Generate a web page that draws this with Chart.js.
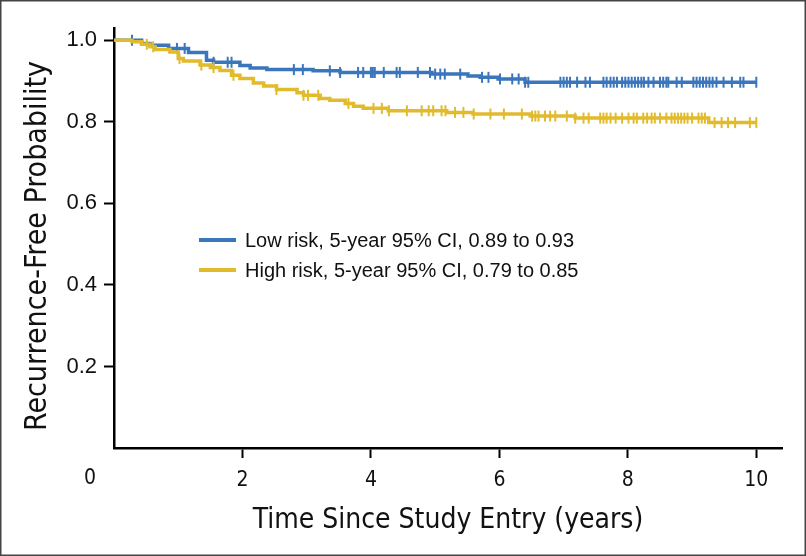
<!DOCTYPE html>
<html><head><meta charset="utf-8">
<script src="https://cdn.jsdelivr.net/npm/chart.js@4"></script>
<style>html,body{margin:0;padding:0;background:#fff}#wrap{width:806px;height:556px;position:relative}</style>
</head><body><div id="wrap"><canvas id="c" width="806" height="556"></canvas></div>
<script>
// ---- data ----
const seriesLabels = ['Low risk, 5-year 95% CI, 0.89 to 0.93', 'High risk, 5-year 95% CI, 0.79 to 0.85'];
const lowTimes = [0, 0.43, 0.56, 0.85, 1.16, 1.44, 1.55, 1.96, 2.12, 2.38, 3.10, 3.52, 4.95, 5.51, 5.70, 5.98, 6.40];
const lowSurv  = [1.0, 0.992, 0.988, 0.980, 0.970, 0.951, 0.946, 0.938, 0.932, 0.928, 0.925, 0.921, 0.917, 0.912, 0.909, 0.905, 0.897];
const lowEnd = 10.0;
const lowCensor = [0.28, 0.98, 1.1, 1.55, 1.77, 1.83, 2.8, 2.94, 3.36, 3.52, 3.8, 3.88, 4.0, 4.03, 4.06, 4.2, 4.4, 4.45, 4.73, 4.92, 5.0, 5.08, 5.15, 5.39, 5.73, 5.83, 6.01, 6.2, 6.3, 6.4, 6.45, 6.95, 7.0, 7.05, 7.1, 7.21, 7.34, 7.41, 7.62, 7.67, 7.73, 7.78, 7.83, 7.91, 7.96, 8.01, 8.06, 8.11, 8.16, 8.21, 8.25, 8.32, 8.4, 8.5, 8.55, 8.6, 8.63, 8.76, 8.84, 9.02, 9.07, 9.12, 9.17, 9.22, 9.27, 9.32, 9.38, 9.49, 9.62, 9.75, 9.8, 10.0];
const highTimes = [0, 0.28, 0.43, 0.56, 0.64, 0.87, 1.0, 1.08, 1.34, 1.5, 1.65, 1.83, 1.96, 2.17, 2.33, 2.53, 2.85, 2.95, 3.21, 3.36, 3.60, 3.73, 3.88, 4.27, 5.18, 5.59, 6.48, 7.18, 9.26];
const highSurv  = [1.0, 0.996, 0.990, 0.984, 0.977, 0.971, 0.955, 0.949, 0.939, 0.933, 0.926, 0.914, 0.906, 0.895, 0.888, 0.879, 0.871, 0.865, 0.857, 0.853, 0.845, 0.838, 0.833, 0.827, 0.823, 0.819, 0.814, 0.809, 0.798];
const highEnd = 10.0;
const highCensor = [0.51, 0.61, 1.02, 1.36, 1.55, 1.86, 2.53, 2.95, 3.02, 3.18, 3.65, 4.04, 4.17, 4.28, 4.56, 4.79, 4.9, 4.97, 5.1, 5.16, 5.31, 5.44, 5.6, 5.86, 6.07, 6.35, 6.51, 6.56, 6.61, 6.71, 6.79, 6.87, 7.05, 7.18, 7.31, 7.39, 7.57, 7.62, 7.67, 7.73, 7.81, 7.91, 8.01, 8.09, 8.14, 8.24, 8.3, 8.37, 8.42, 8.5, 8.6, 8.68, 8.73, 8.78, 8.83, 8.88, 8.93, 9.0, 9.1, 9.15, 9.2, 9.35, 9.46, 9.56, 9.67, 9.9, 10.0];
const xTicks = [2, 4, 6, 8, 10];
const yTicks = [0.2, 0.4, 0.6, 0.8, 1.0];
const xTitle = 'Time Since Study Entry (years)';
const yTitle = 'Recurrence-Free Probability';
const zeroLabel = '0';

const BLUE = '#3a76bb';
const YELLOW = '#e2bb2c';

function stepPoints(times, surv, end) {
  const pts = times.map((t, i) => ({x: t, y: surv[i]}));
  pts.push({x: end, y: surv[surv.length - 1]});
  return pts;
}
function survAt(times, surv, t) {
  let s = surv[0];
  for (let i = 0; i < times.length; i++) if (times[i] <= t) s = surv[i];
  return s;
}
function censorPoints(times, surv, cens) {
  return cens.map(t => ({x: t, y: survAt(times, surv, t)}));
}

const condensed = "'Liberation Sans Narrow', 'DejaVu Sans Condensed', 'Liberation Sans', sans-serif";
const regular = "'Liberation Sans', Arial, sans-serif";

const extras = {
  id: 'extras',
  afterDraw(chart) {
    const ctx = chart.ctx;
    const a = chart.chartArea;
    const xs = chart.scales.x;
    ctx.save();
    // legend
    const cols = [BLUE, YELLOW];
    ctx.font = "20px " + regular;
    ctx.textBaseline = 'middle';
    ctx.textAlign = 'left';
    for (let i = 0; i < 2; i++) {
      const y = a.top + 212 + i * 30;
      ctx.strokeStyle = cols[i];
      ctx.lineWidth = 4;
      ctx.beginPath();
      ctx.moveTo(a.left + 85, y);
      ctx.lineTo(a.left + 122, y);
      ctx.stroke();
      ctx.fillStyle = '#111';
      ctx.fillText(seriesLabels[i], a.left + 131, y + 1);
    }
    // "0" label at the origin corner
    ctx.font = "21px " + condensed;
    ctx.textAlign = 'center';
    ctx.fillText(zeroLabel, xs.getPixelForValue(0) - 24, a.bottom + 31);
    // y-axis title
    ctx.save();
    ctx.translate(38, a.top + 218);
    ctx.rotate(-Math.PI / 2);
    ctx.font = "30px " + condensed;
    ctx.textAlign = 'center';
    ctx.textBaseline = 'middle';
    ctx.fillText(yTitle, 0, 0);
    ctx.restore();
    // frame around the picture
    ctx.strokeStyle = '#444';
    ctx.lineWidth = 1.5;
    ctx.strokeRect(0.75, 0.75, chart.width - 1.5, chart.height - 1.5);
    ctx.restore();
  }
};

new Chart(document.getElementById('c'), {
  type: 'line',
  data: {
    datasets: [
      {label: seriesLabels[1], data: stepPoints(highTimes, highSurv, highEnd), stepped: 'before', borderColor: YELLOW, borderWidth: 3.5, pointRadius: 0, fill: false, order: 0},
      {label: 'hc', data: censorPoints(highTimes, highSurv, highCensor), showLine: false, pointStyle: 'line', rotation: 90, pointRadius: 5.5, pointBorderWidth: 2, borderColor: YELLOW, pointBorderColor: YELLOW, order: 0},
      {label: seriesLabels[0], data: stepPoints(lowTimes, lowSurv, lowEnd), stepped: 'before', borderColor: BLUE, borderWidth: 3.5, pointRadius: 0, fill: false, order: 1},
      {label: 'lc', data: censorPoints(lowTimes, lowSurv, lowCensor), showLine: false, pointStyle: 'line', rotation: 90, pointRadius: 5.5, pointBorderWidth: 2, borderColor: BLUE, pointBorderColor: BLUE, order: 1}
    ]
  },
  options: {
    responsive: false,
    animation: false,
    devicePixelRatio: 1,
    layout: {padding: {left: 0, right: 24, top: 28, bottom: 0}},
    plugins: {legend: {display: false}, tooltip: {enabled: false}},
    scales: {
      x: {
        type: 'linear', min: 0, max: 10.4,
        afterBuildTicks: s => { s.ticks = xTicks.map(v => ({value: v})); },
        afterFit: s => { s.height = 108; },
        grid: {drawOnChartArea: false, drawTicks: true, tickLength: 10, tickWidth: 2, tickColor: '#000'},
        border: {display: true, color: '#000', width: 2.5},
        ticks: {color: '#111', font: {size: 21, family: condensed}, padding: 10, maxRotation: 0, callback: v => String(v)},
        title: {display: true, text: xTitle, color: '#111', font: {size: 28, family: condensed}, padding: {top: 0, bottom: 18}}
      },
      y: {
        type: 'linear', min: 0, max: 1.03,
        afterBuildTicks: s => { s.ticks = yTicks.map(v => ({value: v})); },
        afterFit: s => { s.width = 114; },
        grid: {drawOnChartArea: false, drawTicks: true, tickLength: 10, tickWidth: 2, tickColor: '#000'},
        border: {display: true, color: '#000', width: 2.5},
        ticks: {color: '#111', font: {size: 22, family: regular}, padding: 7, callback: v => v.toFixed(1)},
        title: {display: false, text: yTitle}
      }
    }
  },
  plugins: [extras]
});
</script></body></html>
